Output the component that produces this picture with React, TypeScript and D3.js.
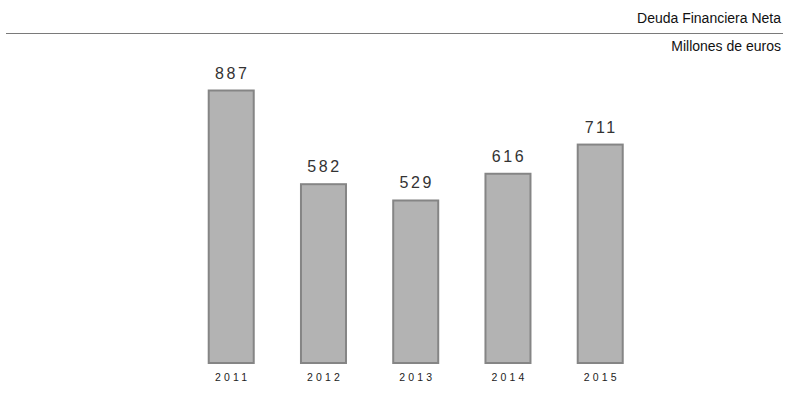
import React from "react";
import * as d3 from "d3";

const years = ["2011", "2012", "2013", "2014", "2015"];
const values = [887, 582, 529, 616, 711];
const title = "Deuda Financiera Neta";
const subtitle = "Millones de euros";

export default function App() {
  const W = 801, H = 397;
  const x = d3.scaleBand<string>().domain(years).range([185.1, 646.35]).paddingInner(0.512).paddingOuter(0.256);
  const y = d3.scaleLinear().domain([0, 887]).range([363, 90.5]);
  const font = "'Liberation Sans', Arial, sans-serif";
  return (
    <svg width={W} height={H} style={{ position: "absolute", left: 0, top: 0, background: "#fff" }}>
      <text x={781} y={23} textAnchor="end" fontFamily={font} fontSize={14} fill="#111">{title}</text>
      <line x1={6} x2={783} y1={33.5} y2={33.5} stroke="#7a7a7a" strokeWidth={1} />
      <text x={781} y={51} textAnchor="end" fontFamily={font} fontSize={14} fill="#111">{subtitle}</text>
      {values.map((v, i) => {
        const bx = x(years[i])!;
        const bw = x.bandwidth();
        return (
          <g key={years[i]}>
            <rect x={bx} y={y(v)} width={bw} height={y(0) - y(v)} fill="#b3b3b3" stroke="#858585" strokeWidth={2} />
            <text x={bx + bw / 2 + 1} y={y(v) - 12} textAnchor="middle" fontFamily={font} fontSize={16} letterSpacing={2.5} fill="#333">{v}</text>
            <text x={bx + bw / 2 + 1.5} y={381} textAnchor="middle" fontFamily={font} fontSize={10.5} letterSpacing={3.2} fill="#222">{years[i]}</text>
          </g>
        );
      })}
    </svg>
  );
}
